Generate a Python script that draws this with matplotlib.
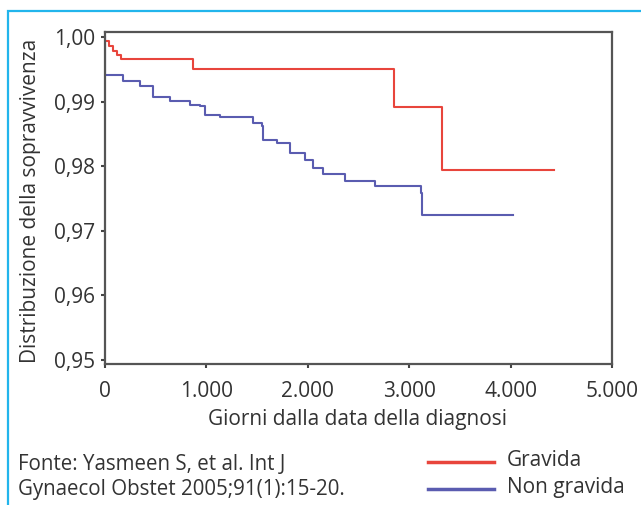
import matplotlib.pyplot as plt
from matplotlib.patches import Rectangle

# curva Gravida (giorni, sopravvivenza)
red_days = [0, 40, 80, 120, 160, 872, 2853, 3328, 4429]
red_surv = [0.9994, 0.9987, 0.9979, 0.9972, 0.9966, 0.9950, 0.9892, 0.9795, 0.9795]

# curva Non gravida
blue_days = [0, 0, 180, 345, 476, 641, 838, 937, 986, 1134, 1462, 1545, 1561,
             1693, 1824, 1972, 2054, 2153, 2367, 2663, 3116, 3123, 4027]
blue_surv = [1.0, 0.9942, 0.9932, 0.9924, 0.9908, 0.9901, 0.9895, 0.9893, 0.9880,
             0.9876, 0.9867, 0.9862, 0.9840, 0.9836, 0.9821, 0.9810, 0.9797,
             0.9788, 0.9778, 0.9769, 0.9759, 0.9725, 0.9725]

x_ticks = [0, 1000, 2000, 3000, 4000, 5000]
x_labels = ["0", "1.000", "2.000", "3.000", "4.000", "5.000"]
y_ticks = [0.95, 0.96, 0.97, 0.98, 0.99, 1.00]
y_labels = ["0,95", "0,96", "0,97", "0,98", "0,99", "1,00"]

RED = "#e8453c"
BLUE = "#5a5cb0"
plt.rcParams['font.family'] = ['Open Sans', 'DejaVu Sans']
W, H = 641, 505

fig = plt.figure(figsize=(6.41, 5.05), dpi=100)
ax = fig.add_axes([105 / W, 1 - 364 / H, (612 - 105) / W, (364 - 32) / H])

ax.step(red_days, red_surv, where='post', color=RED, lw=1.5)
ax.step(blue_days, blue_surv, where='post', color=BLUE, lw=1.5)

ax.set_xlim(0, 5000)
ax.set_ylim(0.94938, 1.0008)
ax.set_xticks(x_ticks)
ax.set_xticklabels(x_labels)
ax.set_yticks(y_ticks)
ax.set_yticklabels(y_labels)
ax.tick_params(labelsize=15, length=3, width=1.5, color='#444444', labelcolor='#333333')
ax.tick_params(axis='x', pad=9)
ax.tick_params(axis='y', pad=4)
for s in ax.spines.values():
    s.set_color('#555555')
    s.set_linewidth(1.6)

# etichette assi
fig.text(358 / W, 1 - 420 / H, "Giorni dalla data della diagnosi", ha='center', va='center',
         fontsize=15, color='#333333')
fig.text(31 / W, 1 - 201 / H, "Distribuzione della sopravvivenza", ha='center', va='center',
         rotation=90, fontsize=15, color='#333333')

# fonte
fig.text(18 / W, 1 - 465 / H, "Fonte: Yasmeen S, et al. Int J", ha='left', va='center',
         fontsize=14.8, color='#333333')
fig.text(18 / W, 1 - 490 / H, "Gynaecol Obstet 2005;91(1):15-20.", ha='left', va='center',
         fontsize=14.8, color='#333333')

# legenda
fig.add_artist(plt.Line2D([428 / W, 494 / W], [1 - 462 / H, 1 - 462 / H], color=RED, lw=2.5))
fig.add_artist(plt.Line2D([428 / W, 494 / W], [1 - 489 / H, 1 - 489 / H], color=BLUE, lw=2.5))
fig.text(507 / W, 1 - 461 / H, "Gravida", ha='left', va='center', fontsize=15, color='#333333')
fig.text(507 / W, 1 - 488 / H, "Non gravida", ha='left', va='center', fontsize=15, color='#333333')

# cornice azzurra
fig.add_artist(Rectangle((8 / W, -0.5), 1.0, 0.5 + 1 - 11 / H, transform=fig.transFigure,
                         fill=False, ec='#22b5ec', lw=1.6))

plt.savefig('out.png', dpi=100)
